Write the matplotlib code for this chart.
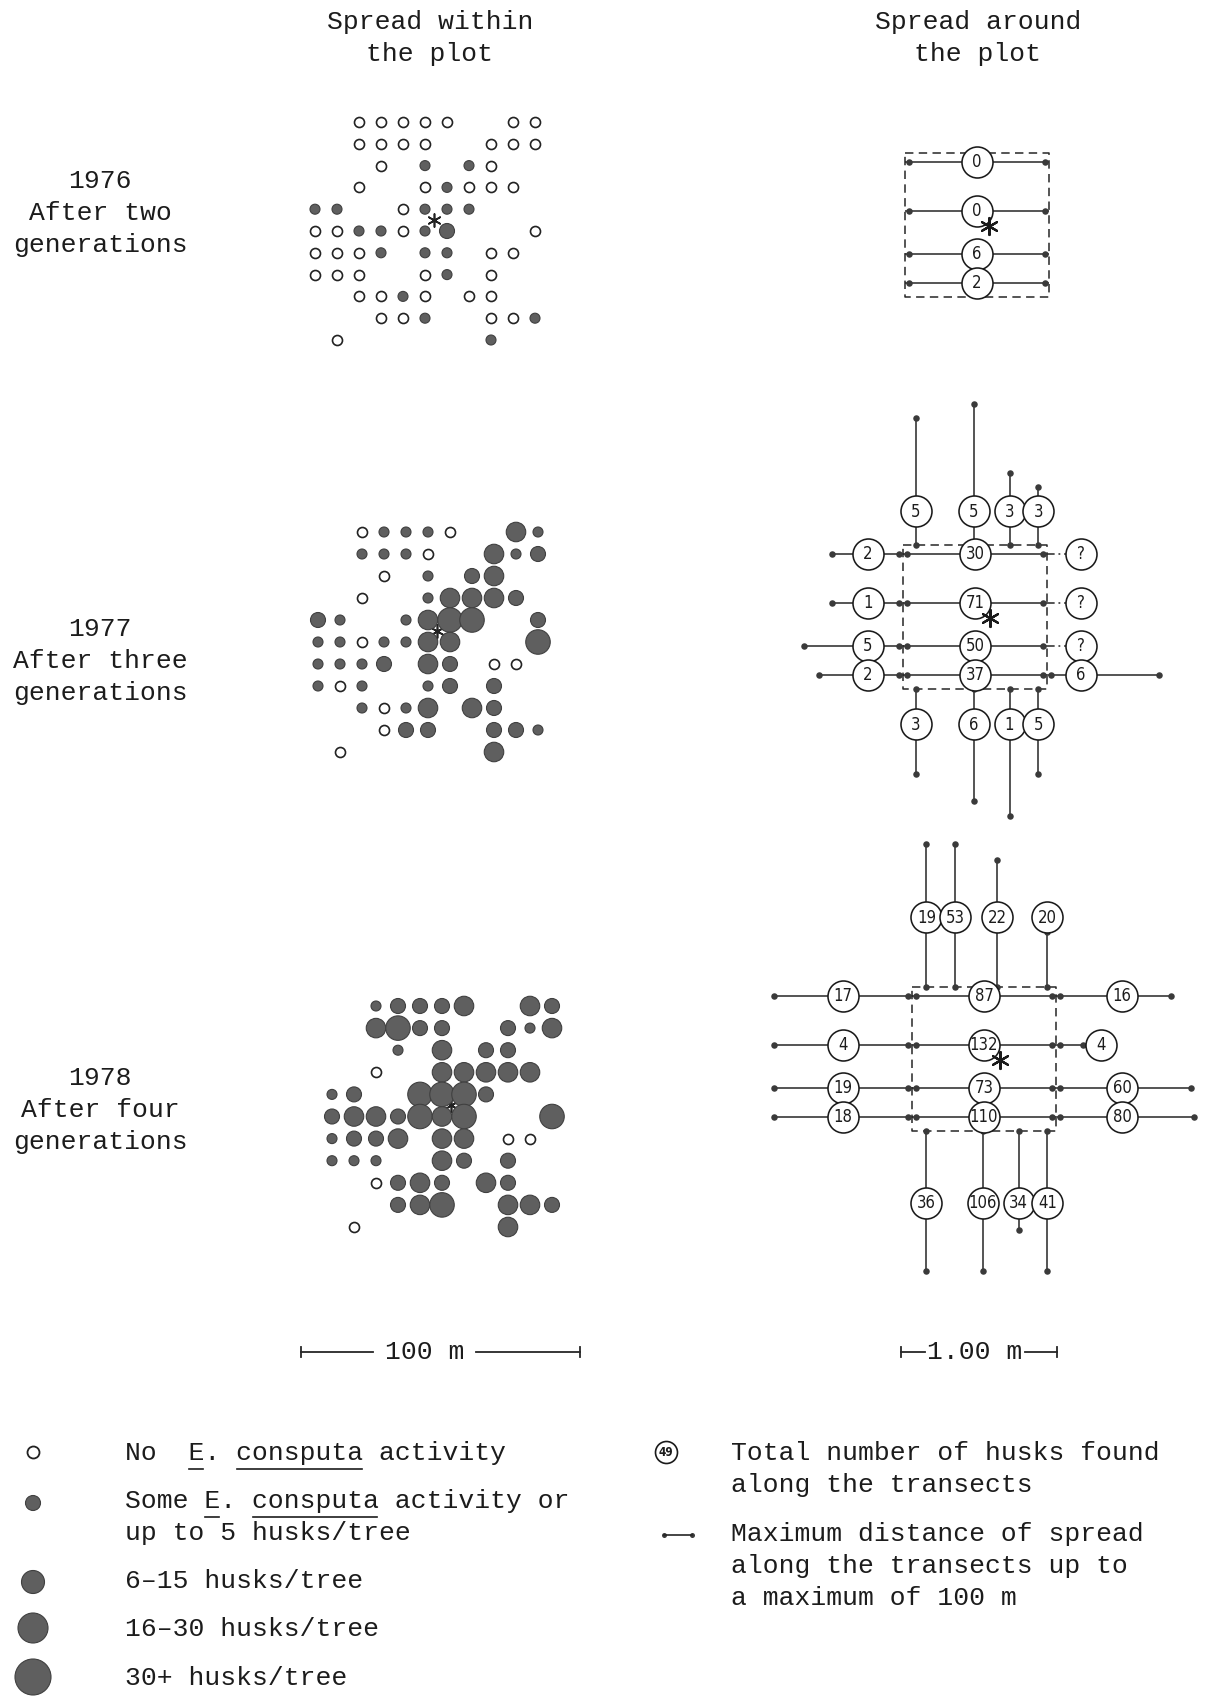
import numpy as np
import matplotlib
matplotlib.use('Agg')
import matplotlib.pyplot as plt
from matplotlib import font_manager

# ---------------------------------------------------------------- data
# Left panels: 11 x 11 grid of trees.
# codes: 0 no tree, 1 no activity, 2 some activity / <=5 husks, 3 6-15, 4 16-30, 5 30+
GRID_1976 = [
    [0, 0, 1, 1, 1, 1, 1, 0, 0, 1, 1],
    [0, 0, 1, 1, 1, 1, 0, 0, 1, 1, 1],
    [0, 0, 0, 1, 0, 2, 0, 2, 1, 0, 0],
    [0, 0, 1, 0, 0, 1, 2, 1, 1, 1, 0],
    [2, 2, 0, 0, 1, 2, 2, 2, 0, 0, 0],
    [1, 1, 2, 2, 1, 2, 3, 0, 0, 0, 1],
    [1, 1, 1, 2, 0, 2, 2, 0, 1, 1, 0],
    [1, 1, 1, 0, 0, 1, 2, 0, 1, 0, 0],
    [0, 0, 1, 1, 2, 1, 0, 1, 1, 0, 0],
    [0, 0, 0, 1, 1, 2, 0, 0, 1, 1, 2],
    [0, 1, 0, 0, 0, 0, 0, 0, 2, 0, 0],
]
GRID_1977 = [
    [0, 0, 1, 2, 2, 2, 1, 0, 0, 4, 2],
    [0, 0, 2, 2, 2, 1, 0, 0, 4, 2, 3],
    [0, 0, 0, 1, 0, 2, 0, 3, 4, 0, 0],
    [0, 0, 1, 0, 0, 2, 4, 4, 4, 3, 0],
    [3, 2, 0, 0, 2, 4, 5, 5, 0, 0, 3],
    [2, 2, 1, 2, 2, 4, 4, 0, 0, 0, 5],
    [2, 2, 2, 3, 0, 4, 3, 0, 1, 1, 0],
    [2, 1, 2, 0, 0, 2, 3, 0, 3, 0, 0],
    [0, 0, 2, 1, 2, 4, 0, 4, 3, 0, 0],
    [0, 0, 0, 1, 3, 3, 0, 0, 3, 3, 2],
    [0, 1, 0, 0, 0, 0, 0, 0, 4, 0, 0],
]
GRID_1978 = [
    [0, 0, 2, 3, 3, 3, 4, 0, 0, 4, 3],
    [0, 0, 4, 5, 3, 3, 0, 0, 3, 2, 4],
    [0, 0, 0, 2, 0, 4, 0, 3, 3, 0, 0],
    [0, 0, 1, 0, 0, 4, 4, 4, 4, 4, 0],
    [2, 3, 0, 0, 5, 5, 5, 3, 0, 0, 0],
    [3, 4, 4, 3, 5, 4, 5, 0, 0, 0, 5],
    [2, 3, 3, 4, 0, 4, 4, 0, 1, 1, 0],
    [2, 2, 2, 0, 0, 4, 3, 0, 3, 0, 0],
    [0, 0, 1, 3, 4, 3, 0, 4, 3, 0, 0],
    [0, 0, 0, 3, 4, 5, 0, 0, 4, 4, 3],
    [0, 1, 0, 0, 0, 0, 0, 0, 4, 0, 0],
]

YEARS = ['1976', '1977', '1978']
GEN_LABELS = ['After two', 'After three', 'After four']

# Right panels: husk counts along transects and maximum spread (m) beyond the plot edge
H_POS_M = [6, 40, 70, 90]            # horizontal transects, m from top edge of the plot

CENTRE_1976 = [0, 0, 6, 2]

CENTRE_1977 = [30, 71, 50, 37]
LEFT_1977 = [2, 1, 5, 2]
LEFT_SPREAD_1977 = [49, 49, 69, 58]
RIGHT_1977 = [None, None, None, 6]
RIGHT_SPREAD_1977 = [np.nan, np.nan, np.nan, 78]
TOP_POS_1977 = [9, 49, 74, 94]
TOP_1977 = [5, 5, 3, 3]
TOP_SPREAD_1977 = [88, 98, 50, 40]
BOTTOM_POS_1977 = [9, 49, 74, 94]
BOTTOM_1977 = [3, 6, 1, 5]
BOTTOM_SPREAD_1977 = [59, 78, 88, 59]

CENTRE_1978 = [87, 132, 73, 110]
LEFT_1978 = [17, 4, 19, 18]
LEFT_SPREAD_1978 = [96, 96, 96, 96]
RIGHT_1978 = [16, 4, 60, 80]
RIGHT_SPREAD_1978 = [80, 19, 94, 96]
TOP_POS_1978 = [10, 30, 59, 94]
TOP_1978 = [19, 53, 22, 20]
TOP_SPREAD_1978 = [99, 99, 88, 38]
BOTTOM_POS_1978 = [10, 49, 74, 94]
BOTTOM_1978 = [36, 106, 34, 41]
BOTTOM_SPREAD_1978 = [97, 97, 69, 97]

LEGEND_LEFT = ['No  E. consputa activity',
               'Some E. consputa activity or',
               'up to 5 husks/tree',
               '6\u201315 husks/tree',
               '16\u201330 husks/tree',
               '30+ husks/tree']
LEGEND_RIGHT = ['Total number of husks found', 'along the transects',
                'Maximum distance of spread', 'along the transects up to',
                'a maximum of 100 m']

# ---------------------------------------------------------------- style
FS = 19
MONO = 'Liberation Mono'
CW = 0.6001 * FS * 100 / 72          # monospace character width in px
TXT = '#1c1c1c'
LINE_C = '#262626'
FILL_C = '#5f5f5f'
FILL_EDGE = '#404040'

names = {f.name for f in font_manager.fontManager.ttflist}
if 'Liberation Sans Narrow' in names:
    NUM_FONT, NUM_STRETCH, NUM_FS = 'Liberation Sans Narrow', 'normal', 14
else:
    NUM_FONT, NUM_STRETCH, NUM_FS = 'DejaVu Sans', 'condensed', 12


def s_of(d_px):
    return (d_px * 0.72) ** 2


SIZE_PX = {1: 10, 2: 10, 3: 15, 4: 19.5, 5: 24.5}

fig = plt.figure(figsize=(12.10, 16.98), dpi=100)
ax = fig.add_axes([0, 0, 1, 1])
ax.set_xlim(0, 1210)
ax.set_ylim(1698, 0)
ax.axis('off')


def txt(x, y, s, ha='center', va='center', **kw):
    ax.text(x, y, s, ha=ha, va=va, fontsize=kw.pop('fontsize', FS),
            family=kw.pop('family', MONO), color=TXT, **kw)


# ---------------------------------------------------------------- headers
for cx, l1 in [(430, 'Spread within'), (978, 'Spread around')]:
    txt(cx, 22, l1)
    txt(cx, 54, 'the plot')

for yc, yr, gen in zip([213, 661, 1110], YEARS, GEN_LABELS):
    txt(100, yc - 32, yr)
    txt(100, yc, gen)
    txt(100, yc + 32, 'generations')


# ---------------------------------------------------------------- left grids
def draw_grid(grid, x0, y0, dx, dy):
    g = np.array(grid)
    rows, cols = np.nonzero(g)
    codes = g[rows, cols]
    xs = x0 + cols * dx
    ys = y0 + rows * dy
    m = codes == 1
    ax.scatter(xs[m], ys[m], s=s_of(SIZE_PX[1]), facecolor='white',
               edgecolor='#222222', linewidths=1.2, zorder=3)
    m = codes >= 2
    ax.scatter(xs[m], ys[m], s=[s_of(SIZE_PX[c]) for c in codes[m]],
               facecolor=FILL_C, edgecolor=FILL_EDGE, linewidths=0.8, zorder=3)
    ax.scatter([x0 + 5.4 * dx], [y0 + 4.5 * dy], marker=(6, 2, 0), s=s_of(13),
               color='#222222', linewidths=1.2, zorder=2)


draw_grid(GRID_1976, 315, 122, 22, 21.8)
draw_grid(GRID_1977, 318, 532, 22, 22)
draw_grid(GRID_1978, 332, 1006, 22, 22.1)

# ---------------------------------------------------------------- right panels
PPM = 1.44
BOX_M = 100
DOT_S = s_of(6.5)
CIRC_D = 31


def dot(xs, ys):
    ax.scatter(xs, ys, s=DOT_S, color='#3a3a3a', zorder=3, linewidths=0)


def circle_label(x, y, val):
    lab = '?' if val is None else str(val)
    ax.scatter([x], [y], s=s_of(CIRC_D), facecolor='white', edgecolor='#1a1a1a',
               linewidths=1.15, zorder=5)
    ax.text(x, y + 0.5, lab, ha='center', va='center', fontsize=NUM_FS,
            family=NUM_FONT, fontstretch=NUM_STRETCH, color=TXT, zorder=6)


def right_panel(bx, by, centre, offs=None, left=None, lspread=None, right=None,
                rspread=None, top_pos=None, top=None, tspread=None,
                bot_pos=None, bot=None, bspread=None):
    S = BOX_M * PPM
    ax.plot([bx, bx + S, bx + S, bx, bx], [by, by, by + S, by + S, by],
            ls=(0, (5.5, 3.5)), lw=1.1, color=LINE_C, zorder=1)
    hy = by + np.array(H_POS_M) * PPM
    ax.hlines(hy, bx, bx + S, colors=LINE_C, lw=1.1, zorder=2)
    dot(np.full(len(hy), bx + 4), hy)
    dot(np.full(len(hy), bx + S - 4), hy)
    for y, c in zip(hy, centre):
        circle_label(bx + 50 * PPM, y, c)
    if left is None:
        return
    oL, oR, oT, oB = offs
    # left / right
    for sign, edge, vals, spreads, off in [(-1, bx, left, lspread, oL),
                                           (1, bx + S, right, rspread, oR)]:
        for y, v, sp in zip(hy, vals, spreads):
            if np.isnan(sp):
                cx = edge + sign * off
                ax.plot([edge, cx], [y, y], ls=(0, (5, 2.5, 1.2, 2.5)), lw=1.1,
                        color=LINE_C, zorder=2)
            else:
                d = sp * PPM
                ax.plot([edge, edge + sign * d], [y, y], lw=1.1, color=LINE_C, zorder=2)
                dot([edge + sign * 4, edge + sign * d], [y, y])
                cx = edge + sign * min(off, d + 18)
            circle_label(cx, y, v)
    # top / bottom
    for sign, edge, poss, vals, spreads, off in [(-1, by, top_pos, top, tspread, oT),
                                                 (1, by + S, bot_pos, bot, bspread, oB)]:
        for p, v, sp in zip(poss, vals, spreads):
            x = bx + p * PPM
            d = sp * PPM
            ax.plot([x, x], [edge, edge + sign * d], lw=1.1, color=LINE_C, zorder=2)
            dot([x, x], [edge, edge + sign * d])
            circle_label(x, edge + sign * min(off, d + 18), v)


def star(x, y):
    ax.scatter([x], [y], marker=(6, 2, 0), s=s_of(17), color='#1a1a1a',
               linewidths=1.6, zorder=7)


right_panel(905, 153, CENTRE_1976)
star(905 + 84, 153 + 73)

right_panel(903, 545, CENTRE_1977, offs=(35, 34, 34, 35),
            left=LEFT_1977, lspread=LEFT_SPREAD_1977,
            right=RIGHT_1977, rspread=RIGHT_SPREAD_1977,
            top_pos=TOP_POS_1977, top=TOP_1977, tspread=TOP_SPREAD_1977,
            bot_pos=BOTTOM_POS_1977, bot=BOTTOM_1977, bspread=BOTTOM_SPREAD_1977)
star(903 + 87, 545 + 73)

right_panel(912, 987, CENTRE_1978, offs=(69, 66, 70, 72),
            left=LEFT_1978, lspread=LEFT_SPREAD_1978,
            right=RIGHT_1978, rspread=RIGHT_SPREAD_1978,
            top_pos=TOP_POS_1978, top=TOP_1978, tspread=TOP_SPREAD_1978,
            bot_pos=BOTTOM_POS_1978, bot=BOTTOM_1978, bspread=BOTTOM_SPREAD_1978)
star(912 + 88, 987 + 73)

# ---------------------------------------------------------------- scale bars
SB_Y = 1352
for (x0, x1), (g0, g1), label in [((301, 580), (373, 476), '100 m'),
                                  ((901, 1057), (925, 1025), '1.00 m')]:
    ax.plot([x0, g0], [SB_Y, SB_Y], lw=1.3, color=LINE_C)
    ax.plot([g1, x1], [SB_Y, SB_Y], lw=1.3, color=LINE_C)
    ax.plot([x0, x0], [SB_Y - 5, SB_Y + 5], lw=1.3, color=LINE_C)
    ax.plot([x1, x1], [SB_Y - 5, SB_Y + 5], lw=1.3, color=LINE_C)
    txt((g0 + g1) / 2, SB_Y, label)

# ---------------------------------------------------------------- legend (left)
LEG_MARK_Y = [1452, 1503, 1582, 1628, 1677]
LEG_MARK_D = [12, 15, 23, 30, 36]
ax.scatter([33], [LEG_MARK_Y[0]], s=s_of(LEG_MARK_D[0]), facecolor='white',
           edgecolor='#222222', linewidths=1.3)
ax.scatter([33] * 4, LEG_MARK_Y[1:], s=[s_of(d) for d in LEG_MARK_D[1:]],
           facecolor=FILL_C, edgecolor=FILL_EDGE, linewidths=0.8)

LX = 125
LEG_TEXT_Y = [1452, 1500, 1532, 1580, 1628, 1677]
for y, s in zip(LEG_TEXT_Y, LEGEND_LEFT):
    txt(LX, y + 8, s, ha='left', va='baseline')


def underline(x0, y_base, i0, i1):
    ax.plot([x0 + i0 * CW + 1, x0 + i1 * CW - 1], [y_base + 9, y_base + 9],
            lw=1.2, color=TXT)


underline(LX, LEG_TEXT_Y[0] + 8, 4, 5)
underline(LX, LEG_TEXT_Y[0] + 8, 7, 15)
underline(LX, LEG_TEXT_Y[1] + 8, 5, 6)
underline(LX, LEG_TEXT_Y[1] + 8, 8, 16)

# ---------------------------------------------------------------- legend (right)
ax.scatter([666], [1452], s=s_of(22), facecolor='white', edgecolor='#1a1a1a',
           linewidths=1.2)
ax.text(666, 1452.5, '49', ha='center', va='center', fontsize=8.5,
        family=NUM_FONT, fontstretch=NUM_STRETCH, color=TXT, weight='bold')
ax.plot([664, 692], [1535, 1535], lw=1.2, color=LINE_C)
ax.scatter([664, 692], [1535, 1535], s=s_of(5), color='#3a3a3a', linewidths=0)

RX = 731
for y, s in zip([1452, 1484, 1533, 1565, 1597], LEGEND_RIGHT):
    txt(RX, y + 8, s, ha='left', va='baseline')

fig.savefig('out.png', dpi=100, facecolor='white')
